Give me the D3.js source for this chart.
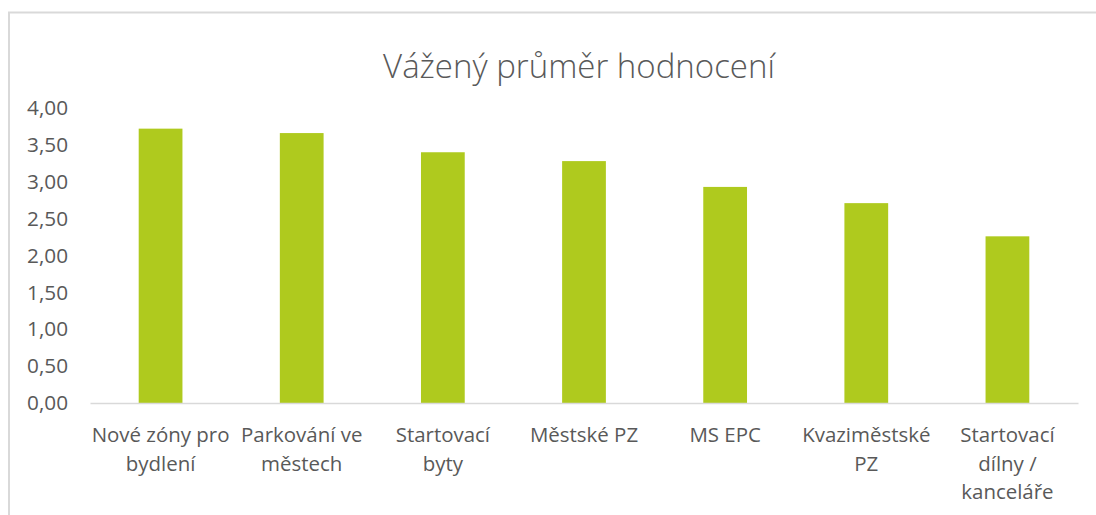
<!DOCTYPE html>
<html><head><meta charset="utf-8">
<script src="https://cdn.jsdelivr.net/npm/d3@7"></script>
<style>body{margin:0;background:#fff}svg{display:block}</style>
</head><body>
<svg id="c" width="1096" height="515"></svg>
<script>
const categories = ["Nové zóny pro bydlení","Parkování ve městech","Startovací byty","Městské PZ","MS EPC","Kvaziměstské PZ","Startovací dílny / kanceláře"];
const categoryLines = [["Nové zóny pro","bydlení"],["Parkování ve","městech"],["Startovací","byty"],["Městské PZ"],["MS EPC"],["Kvaziměstské","PZ"],["Startovací","dílny /","kanceláře"]];
const values = [3.72, 3.66, 3.40, 3.28, 2.93, 2.71, 2.26];
const yTicks = [0, 0.5, 1, 1.5, 2, 2.5, 3, 3.5, 4];
const title = "Vážený průměr hodnocení";

const svg = d3.select("#c");
const FONT = "'Open Sans', sans-serif";
const TXT = "#595959";

// frame
svg.append("rect").attr("x",9).attr("y",12.5).attr("width",1200).attr("height",600)
  .attr("fill","none").attr("stroke","#d9d9d9").attr("stroke-width",2);

function fit(str, target, weight){
  const t = svg.append("text").attr("font-family",FONT).attr("font-size",100).attr("font-weight",weight||400).text(str);
  const w = t.node().getComputedTextLength(); t.remove();
  return 100*target/w;
}
const labelSize = fit("Nové zóny pro",138);
const tickSize = fit("4,00",41);
const titleSize = fit(title,392,300);

const x = d3.scaleBand().domain(categories).range([90,1078]).paddingInner(0.69).paddingOuter(0.345);
const y = d3.scaleLinear().domain([0,4]).range([403,108]);

svg.append("text").attr("x",579).attr("y",78).attr("text-anchor","middle")
  .attr("font-family",FONT).attr("font-weight",300).attr("font-size",titleSize).attr("fill",TXT).text(title);

svg.append("g").selectAll("rect").data(values).join("rect")
  .attr("x",(d,i)=>x(categories[i])).attr("width",x.bandwidth())
  .attr("y",d=>y(d)).attr("height",d=>y(0)-y(d)).attr("fill","#afca1e");

const ya = svg.append("g").attr("transform","translate(68,0)")
  .call(d3.axisLeft(y).tickValues(yTicks).tickSize(0).tickPadding(0).tickFormat(d=>d3.format(".2f")(d).replace(".",",")));
ya.select(".domain").remove();
ya.selectAll("text").attr("font-family",FONT).attr("font-size",tickSize).attr("fill",TXT);

const xa = svg.append("g").attr("transform","translate(0,403)")
  .call(d3.axisBottom(x).tickSize(0).tickSizeOuter(0).tickFormat(""));
xa.select(".domain").attr("stroke","#d9d9d9").attr("stroke-width",1.5);
xa.selectAll(".tick").each(function(d,i){
  const t = d3.select(this).append("text").attr("text-anchor","middle")
    .attr("font-family",FONT).attr("font-size",labelSize).attr("fill",TXT);
  categoryLines[i].forEach((ln,j)=>t.append("tspan").attr("x",0).attr("y",39+j*28.5).text(ln));
});
</script>
</body></html>
